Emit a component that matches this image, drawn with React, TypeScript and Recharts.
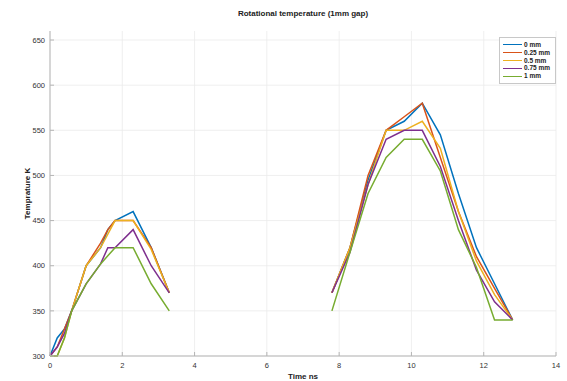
import React from "react";
import {
  LineChart,
  Line,
  XAxis,
  YAxis,
  CartesianGrid,
} from "recharts";

// time points (ns), first pulse and second pulse
const timeA = [0, 0.2, 0.4, 0.6, 1.0, 1.4, 1.6, 1.8, 2.3, 2.8, 3.3];
const timeB = [7.8, 8.3, 8.8, 9.3, 9.8, 10.3, 10.8, 11.3, 11.8, 12.3, 12.8];

const gap0A = [300, 320, 330, 350, 400, 420, 440, 450, 460, 420, 370];
const gap0B = [370, 420, 495, 550, 560, 580, 545, 480, 420, 380, 340];
const gap025A = [300, 310, 330, 350, 400, 425, 440, 450, 450, 420, 370];
const gap025B = [370, 420, 500, 550, 565, 580, 520, 460, 410, 375, 340];
const gap05A = [300, 300, 320, 350, 400, 420, 435, 450, 450, 418, 370];
const gap05B = [370, 420, 490, 550, 550, 560, 530, 460, 405, 368, 340];
const gap075A = [300, 310, 325, 350, 380, 402, 420, 420, 440, 400, 370];
const gap075B = [370, 415, 490, 540, 550, 550, 510, 450, 395, 360, 340];
const gap1A = [300, 300, 320, 350, 380, 402, 411, 420, 420, 380, 350];
const gap1B = [350, 415, 480, 520, 540, 540, 505, 440, 398, 340, 340];

const xTicks = [0, 2, 4, 6, 8, 10, 12, 14];
const yTicks = [300, 350, 400, 450, 500, 550, 600, 650];

const series = [
  { key: "g0", name: "0 mm", color: "#0072BD", a: gap0A, b: gap0B },
  { key: "g025", name: "0.25 mm", color: "#D95319", a: gap025A, b: gap025B },
  { key: "g05", name: "0.5 mm", color: "#EDB120", a: gap05A, b: gap05B },
  { key: "g075", name: "0.75 mm", color: "#7E2F8E", a: gap075A, b: gap075B },
  { key: "g1", name: "1 mm", color: "#77AC30", a: gap1A, b: gap1B },
];

type Row = { t: number; [k: string]: number | null };

const rows: Row[] = [];
timeA.forEach((t, i) => {
  const r: Row = { t };
  series.forEach((s) => (r[s.key] = s.a[i]));
  rows.push(r);
});
{
  // break between the two pulses
  const r: Row = { t: 5.5 };
  series.forEach((s) => (r[s.key] = null));
  rows.push(r);
}
timeB.forEach((t, i) => {
  const r: Row = { t };
  series.forEach((s) => (r[s.key] = s.b[i]));
  rows.push(r);
});

const font = "'Liberation Sans', Arial, sans-serif";
const axisColor = "#b5b5b5";
const textColor = "#333";

function LegendBox() {
  return (
    <div
      style={{
        position: "absolute",
        left: 499,
        top: 37,
        border: "1px solid #c8c8c8",
        background: "#fff",
        padding: "3px 5px 3px 3px",
        fontFamily: font,
        fontSize: 6.5,
        fontWeight: "bold",
        color: "#222",
        lineHeight: "7.8px",
      }}
    >
      {series.map((s) => (
        <div key={s.key} style={{ display: "flex", alignItems: "center" }}>
          <span
            style={{
              display: "inline-block",
              width: 19,
              height: 0,
              borderTop: `1.5px solid ${s.color}`,
              marginRight: 2,
            }}
          />
          <span>{s.name}</span>
        </div>
      ))}
    </div>
  );
}

export default function App() {
  return (
    <div style={{ position: "absolute", left: 0, top: 0, width: 567, height: 381, background: "#fff" }}>
      <div
        style={{
          position: "absolute",
          top: 9,
          left: 50,
          width: 506,
          textAlign: "center",
          fontFamily: font,
          fontSize: 8,
          fontWeight: "bold",
          color: "#222",
        }}
      >
        Rotational temperature (1mm gap)
      </div>
      <LineChart
        width={567}
        height={381}
        data={rows}
        margin={{ top: 31, right: 11, bottom: 0, left: 0 }}
        style={{ fontFamily: font }}
      >
        <CartesianGrid stroke="#ebebeb" strokeWidth={0.8} horizontalValues={yTicks} verticalValues={xTicks} />
        <XAxis
          dataKey="t"
          type="number"
          domain={[0, 14]}
          ticks={xTicks}
          interval={0}
          height={25}
          stroke={axisColor}
          tickSize={-4}
          tickMargin={11}
          tick={{ fontSize: 7.5, fill: textColor }}
          label={{
            value: "Time ns",
            position: "insideBottom",
            offset: 2,
            style: { fontSize: 8, fontWeight: "bold", fill: "#222" },
          }}
        />
        <XAxis
          xAxisId="top"
          orientation="top"
          dataKey="t"
          type="number"
          domain={[0, 14]}
          ticks={xTicks}
          height={0}
          stroke={axisColor}
          tick={false}
          tickSize={-4}
          mirror
        />
        <YAxis
          type="number"
          domain={[300, 660]}
          ticks={yTicks}
          interval={0}
          width={50}
          stroke={axisColor}
          tickSize={-4}
          tickMargin={9}
          tick={{ fontSize: 7.5, fill: textColor }}
          label={{
            value: "Temprature K",
            angle: -90,
            position: "insideLeft",
            offset: 27,
            style: { fontSize: 8, fontWeight: "bold", fill: "#222", textAnchor: "middle" },
          }}
        />
        <YAxis
          yAxisId="right"
          orientation="right"
          type="number"
          domain={[300, 660]}
          ticks={yTicks}
          width={0}
          stroke={axisColor}
          tick={false}
          tickSize={-4}
          mirror
        />
        {series.map((s) => (
          <Line
            key={s.key}
            dataKey={s.key}
            name={s.name}
            stroke={s.color}
            strokeWidth={1.5}
            dot={false}
            activeDot={false}
            connectNulls={false}
            isAnimationActive={false}
          />
        ))}
      </LineChart>
      <LegendBox />
    </div>
  );
}
